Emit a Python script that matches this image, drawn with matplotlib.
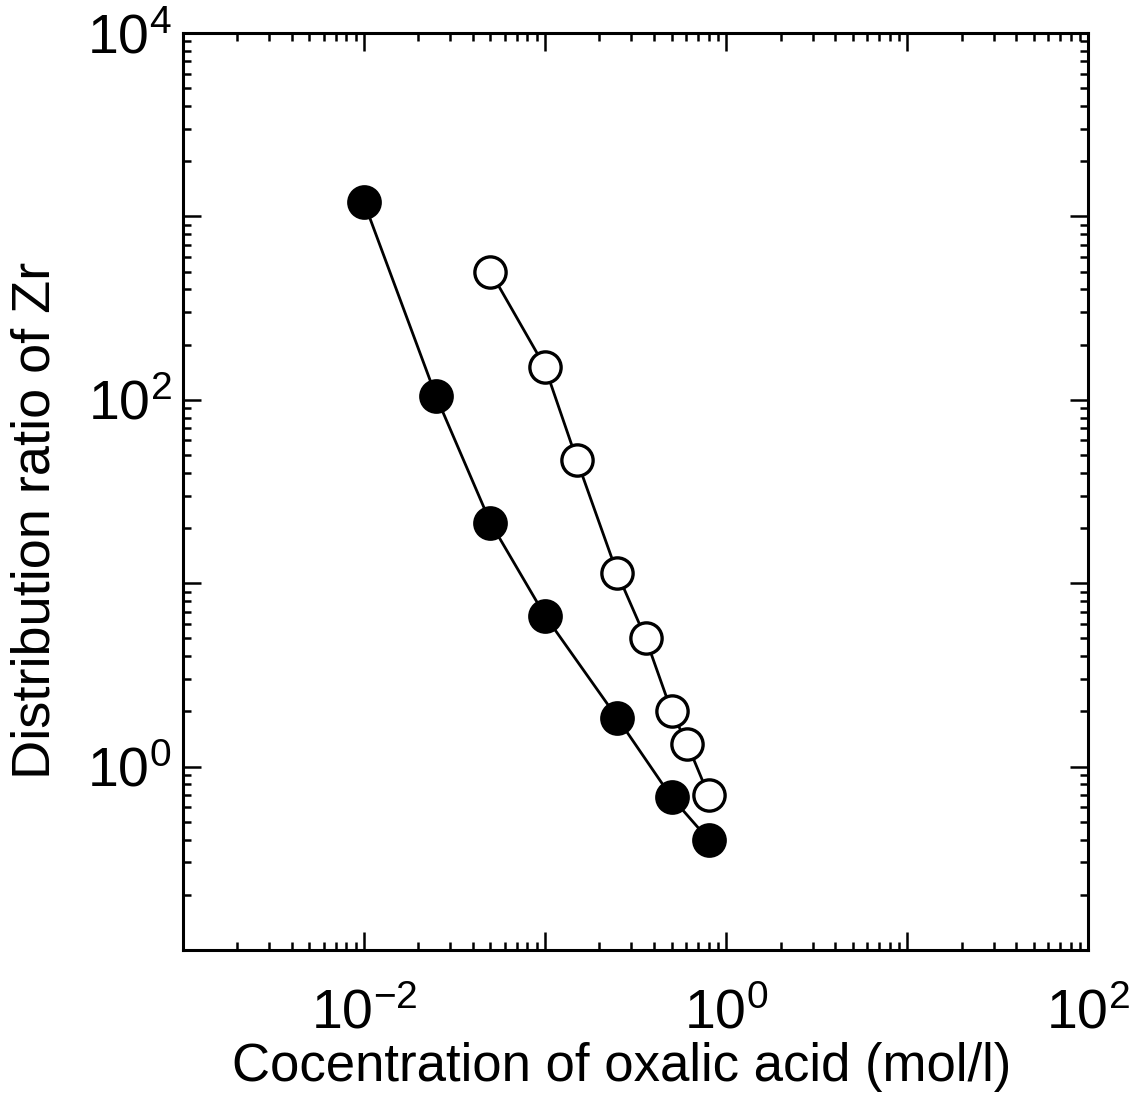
import math
import matplotlib
matplotlib.use("Agg")
import matplotlib.pyplot as plt
from matplotlib.ticker import FixedLocator, FuncFormatter, LogLocator, NullFormatter

plt.rcParams['font.family'] = ['Liberation Sans', 'DejaVu Sans']
plt.rcParams['mathtext.fontset'] = 'custom'
plt.rcParams['mathtext.rm'] = 'Liberation Sans'
plt.rcParams['mathtext.it'] = 'Liberation Sans'

# Data
filled_x = [0.01, 0.025, 0.05, 0.1, 0.25, 0.5, 0.8]
filled_y = [1200, 105, 21.4, 6.65, 1.85, 0.68, 0.40]
open_x = [0.05, 0.1, 0.15, 0.25, 0.36, 0.5, 0.61, 0.8]
open_y = [500, 151, 47, 11.4, 5.0, 2.0, 1.33, 0.70]

x_label = "Cocentration of oxalic acid (mol/l)"
y_label = "Distribution ratio of Zr"

fig = plt.figure(figsize=(11.42, 10.99), dpi=100)
ax = fig.add_axes([0.160, 0.1356, 0.793, 0.8344])
ax.set_xscale('log')
ax.set_yscale('log')
ax.set_xlim(1e-3, 1e2)
ax.set_ylim(1e-1, 1e4)

ax.plot(filled_x, filled_y, '-', color='black', lw=2.0, zorder=2)
ax.plot(open_x, open_y, '-', color='black', lw=2.0, zorder=2)
ax.plot(filled_x, filled_y, 'o', ms=23, mfc='black', mec='black', mew=2, zorder=3)
ax.plot(open_x, open_y, 'o', ms=22.5, mfc='white', mec='black', mew=2.4, zorder=3)

def fmt(v, pos):
    e = int(round(math.log10(v)))
    if e % 2 == 0:
        return r'$\mathregular{10^{%d}}$' % e
    return ''

ax.xaxis.set_major_locator(FixedLocator([10.0**e for e in range(-3, 3)]))
ax.yaxis.set_major_locator(FixedLocator([10.0**e for e in range(-1, 5)]))
ax.xaxis.set_major_formatter(FuncFormatter(fmt))
ax.yaxis.set_major_formatter(FuncFormatter(fmt))
ax.xaxis.set_minor_locator(LogLocator(base=10, subs=range(2, 10), numticks=100))
ax.yaxis.set_minor_locator(LogLocator(base=10, subs=range(2, 10), numticks=100))
ax.xaxis.set_minor_formatter(NullFormatter())
ax.yaxis.set_minor_formatter(NullFormatter())

ax.tick_params(which='both', direction='in', top=True, right=True, width=1.8)
ax.tick_params(which='major', length=13, labelsize=40)
ax.tick_params(axis='x', which='major', pad=28)
ax.tick_params(axis='y', which='major', pad=8)
ax.tick_params(which='minor', length=6)
for s in ax.spines.values():
    s.set_linewidth(2.2)

ax.set_xlabel(x_label, fontsize=38)
ax.set_ylabel(y_label, fontsize=39)
ax.xaxis.set_label_coords(0.485, -0.100)
ax.yaxis.set_label_coords(-0.135, 0.468)

fig.savefig("out.png", dpi=100, facecolor='white')
